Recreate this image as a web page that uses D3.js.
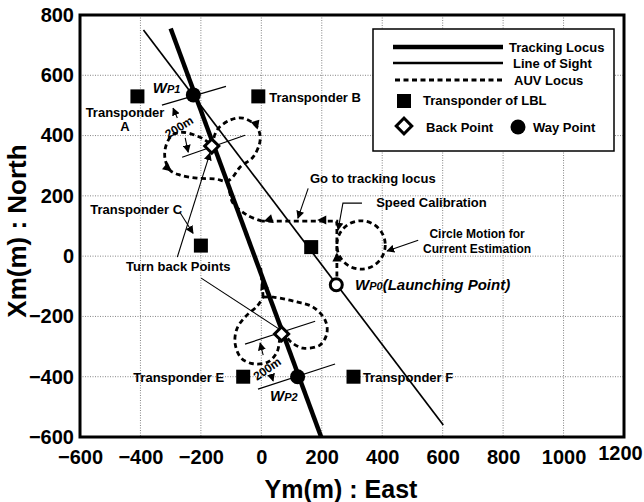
<!DOCTYPE html>
<html>
<head>
<meta charset="utf-8">
<script src="https://cdn.jsdelivr.net/npm/d3@7"></script>
<style>
  body { margin: 0; background: #fff; }
  svg { display: block; font-family: "Liberation Sans", Arial, sans-serif; }
  .tick text { font-size: 20px; font-weight: bold; fill: #000; }
  .lbl { font-size: 13px; font-weight: bold; fill: #000; }
  .lbl.small { font-size: 12px; }
</style>
</head>
<body>
<div id="chart"></div>
<script>
// all positions below are [east (m), north (m)]

const xTicks = [-600, -400, -200, 0, 200, 400, 600, 800, 1000, 1200];
const yTicks = [-600, -400, -200, 0, 200, 400, 600, 800];

const trackingLocus = [[-300, 755], [198, -600]];
const lineOfSight = [[-390, 750], [602, -560]];

const transponders = [
  { id: 'A', e: -410, n: 530 },
  { id: 'B', e: -10, n: 530 },
  { id: 'C', e: -200, n: 35 },
  { id: 'D', e: 165, n: 30 },
  { id: 'E', e: -60, n: -400 },
  { id: 'F', e: 305, n: -400 },
];
const wayPoints = [
  { id: 'WP1', e: -225, n: 535 },
  { id: 'WP2', e: 120, n: -400 },
];
const launchPoint = { id: 'WP0', e: 248, n: -95 };
const backPoints = [[-164, 365], [67, -258]];

// AUV locus pieces
const auvLaunchLeg = [[250, -96], [250, 116], [2, 116]];
const auvToLocus = [[2, 116], [-47, 136], [-94, 176], [-104, 209], [-113, 249]];
const calibCircle = { e: 330, n: 37, r: 80 };
const upperLoop = [
  [-163, 365], [-147, 418], [-104, 451], [-61, 458], [-14, 428], [-4, 385],
  [-27, 329], [-70, 296], [-94, 263], [-113, 249], [-153, 256], [-213, 259],
  [-269, 269], [-302, 285], [-319, 325], [-315, 368], [-295, 401], [-262, 411],
  [-219, 401], [-186, 385], [-163, 365],
];
const lowerLoop = [
  [6, -136], [39, -136], [118, -152], [171, -169], [211, -212], [217, -255],
  [194, -295], [138, -305], [102, -288], [68, -258], [52, -318], [22, -351],
  [-27, -357], [-67, -338], [-87, -288], [-80, -239], [-51, -199], [-14, -166],
  [6, -136],
];
const lowerClimb = [[6, -136], [-2, -40]];

// arrow heads on the AUV locus: tip + direction
const auvArrows = [
  { e: 250, n: 12, de: 0, dn: 1 },
  { e: 185, n: 120, de: -1, dn: 0 },
  { e: 8, n: 116, de: -1, dn: -0.3 },
  { e: -12, n: 420, de: 0.3, dn: -1 },
  { e: -296, n: 281, de: 1, dn: -0.8 },
  { e: 0, n: -82, de: -0.37, dn: 1 },
];

// thin reference lines across the tracking locus
const crossLines = [
  [[-329, 501], [-117, 563]],
  [[-262, 328], [-54, 401]],
  [[-54, -292], [178, -216]],
  [[-11, -441], [244, -358]],
];

// pointer lines from labels, arrow at the end when arrow = true
const pointers = [
  { pts: [[-268, 143], [-226, 76]], arrow: true },
  { pts: [[-278, -3], [-170, 342]], arrow: true },
  { pts: [[-199, -73], [59, -242]], arrow: false },
  { pts: [[155, 225], [121, 126]], arrow: true },
  { pts: [[333, 176], [270, 176], [254, 87]], arrow: true },
  { pts: [[519, 53], [416, 17]], arrow: true },
  { pts: [[-278, 458], [-292, 491]], arrow: true },
  { pts: [[-252, 392], [-242, 345]], arrow: true },
  { pts: [[6, -328], [-4, -288]], arrow: true },
  { pts: [[33, -394], [39, -414]], arrow: true },
];

const labels = [
  { t: 'Transponder', e: -451, n: 461, anchor: 'middle' },
  { t: 'A', e: -451, n: 415, anchor: 'middle' },
  { t: 'Transponder B', e: 26, n: 511, anchor: 'start' },
  { t: 'Transponder C', e: -414, n: 140, anchor: 'middle' },
  { t: 'Turn back Points', e: -275, n: -49, anchor: 'middle' },
  { t: 'Transponder E', e: -123, n: -418, anchor: 'end' },
  { t: 'Transponder F', e: 336, n: -418, anchor: 'start' },
  { t: 'Go to tracking locus', e: 161, n: 243, anchor: 'start' },
  { t: 'Speed Calibration', e: 380, n: 163, anchor: 'start' },
  { t: 'Circle Motion for', e: 714, n: 59, anchor: 'middle', small: true },
  { t: 'Current Estimation', e: 714, n: 12, anchor: 'middle', small: true },
];
const wpLabels = [
  { w: 'W', p: 'P1', rest: '', e: -359, n: 541 },
  { w: 'W', p: 'P2', rest: '', e: 29, n: -481 },
  { w: 'W', p: 'P0', rest: '(Launching Point)', e: 310, n: -112 },
];
const distLabels = [
  { t: '200m', e: -272, n: 428, rot: -32 },
  { t: '200m', e: 19, n: -374, rot: -35 },
];

const legendItems = ['Tracking Locus', 'Line of Sight', 'AUV Locus', 'Transponder of LBL', 'Back Point', 'Way Point'];

// dimensions
const WIDTH = 644;
const HEIGHT = 502;
const LEFT = 80;
const RIGHT = 624;
const TOP = 15;
const BOTTOM = 437;

const x = d3.scaleLinear().domain([-600, 1200]).range([LEFT, RIGHT]);
const y = d3.scaleLinear().domain([-600, 800]).range([BOTTOM, TOP]);

const $svg = d3.select('#chart').append('svg')
  .attr('width', WIDTH)
  .attr('height', HEIGHT);

$svg.append('defs').append('marker')
  .attr('id', 'tip')
  .attr('viewBox', '0 0 10 10')
  .attr('refX', 9)
  .attr('refY', 5)
  .attr('markerUnits', 'userSpaceOnUse')
  .attr('markerWidth', 8)
  .attr('markerHeight', 8)
  .attr('orient', 'auto')
  .append('path')
  .attr('d', 'M0,0L10,5L0,10Z');

// grid
const $grid = $svg.append('g').attr('class', 'grid')
  .attr('stroke', '#666').attr('stroke-width', 0.8).attr('stroke-dasharray', '1,1.5');
$grid.selectAll('.gx').data(xTicks.slice(1, -1)).join('line')
  .attr('x1', d => x(d)).attr('x2', d => x(d)).attr('y1', TOP).attr('y2', BOTTOM);
$grid.selectAll('.gy').data(yTicks.slice(1, -1)).join('line')
  .attr('y1', d => y(d)).attr('y2', d => y(d)).attr('x1', LEFT).attr('x2', RIGHT);

// axes (labels only)
const $xAxis = $svg.append('g')
  .attr('transform', `translate(0, ${BOTTOM})`)
  .call(d3.axisBottom(x).tickValues(xTicks).tickSize(0).tickPadding(13).tickFormat(d3.format('d')));
$xAxis.select('.domain').remove();
// the last label sits a little higher and further left in the original
$xAxis.selectAll('.tick text').filter(d => d === 1200).attr('dy', '0.5em').attr('dx', -4);

const $yAxis = $svg.append('g')
  .attr('transform', `translate(${LEFT}, 0)`)
  .call(d3.axisLeft(y).tickValues(yTicks).tickSize(0).tickPadding(6).tickFormat(d3.format('d')));
$yAxis.select('.domain').remove();

$svg.append('text')
  .attr('x', (LEFT + RIGHT) / 2 - 11).attr('y', 498)
  .attr('text-anchor', 'middle')
  .style('font-size', '25px').style('font-weight', 'bold')
  .text('Ym(m) : East');
$svg.append('text')
  .attr('transform', `translate(26, ${(TOP + BOTTOM) / 2 + 5}) rotate(-90)`)
  .attr('text-anchor', 'middle')
  .style('font-size', '26px').style('font-weight', 'bold')
  .text('Xm(m) : North');

// plot content
const $vis = $svg.append('g').attr('class', 'vis');
const line = d3.line().x(d => x(d[0])).y(d => y(d[1]));
const curve = d3.line().x(d => x(d[0])).y(d => y(d[1])).curve(d3.curveCatmullRom.alpha(0.5));

const DASH = '5,3.5';
const AUV_W = 2.8;

// AUV locus
const $auv = $vis.append('g').attr('fill', 'none').attr('stroke', '#000')
  .attr('stroke-width', AUV_W).attr('stroke-dasharray', DASH);
$auv.append('path').attr('d', line(auvLaunchLeg));
$auv.append('path').attr('d', curve(auvToLocus));
$auv.append('circle')
  .attr('cx', x(calibCircle.e)).attr('cy', y(calibCircle.n))
  .attr('r', x(calibCircle.r) - x(0));
$auv.append('path').attr('d', curve(upperLoop));
$auv.append('path').attr('d', curve(lowerLoop));
$auv.append('path').attr('d', line(lowerClimb));

// cross lines
$vis.selectAll('.cross').data(crossLines).join('path')
  .attr('class', 'cross')
  .attr('d', line)
  .attr('fill', 'none').attr('stroke', '#000').attr('stroke-width', 1.2);

// line of sight and tracking locus
$vis.append('path').attr('d', line(lineOfSight))
  .attr('fill', 'none').attr('stroke', '#000').attr('stroke-width', 1.7);
$vis.append('path').attr('d', line(trackingLocus))
  .attr('fill', 'none').attr('stroke', '#000').attr('stroke-width', 4.5);

// AUV arrow heads
$vis.selectAll('.auv-arrow').data(auvArrows).join('path')
  .attr('class', 'auv-arrow')
  .attr('d', 'M0,0L-9,-4.5L-9,4.5Z')
  .attr('transform', d => {
    const ang = Math.atan2(y(d.n + d.dn) - y(d.n), x(d.e + d.de) - x(d.e)) * 180 / Math.PI;
    return `translate(${x(d.e)}, ${y(d.n)}) rotate(${ang})`;
  });

// pointers
$vis.selectAll('.pointer').data(pointers).join('path')
  .attr('class', 'pointer')
  .attr('d', d => line(d.pts))
  .attr('fill', 'none').attr('stroke', '#000').attr('stroke-width', 1.1)
  .attr('marker-end', d => (d.arrow ? 'url(#tip)' : null));

// transponders
const SQ = 14;
$vis.selectAll('.transponder').data(transponders).join('rect')
  .attr('class', 'transponder')
  .attr('x', d => x(d.e) - SQ / 2).attr('y', d => y(d.n) - SQ / 2)
  .attr('width', SQ).attr('height', SQ);

// back points
$vis.selectAll('.back').data(backPoints).join('rect')
  .attr('class', 'back')
  .attr('width', 10).attr('height', 10)
  .attr('transform', d => `translate(${x(d[0])}, ${y(d[1])}) rotate(45) translate(-5, -5)`)
  .attr('fill', '#fff').attr('stroke', '#000').attr('stroke-width', 3);

// way points
$vis.selectAll('.wp').data(wayPoints).join('circle')
  .attr('class', 'wp')
  .attr('cx', d => x(d.e)).attr('cy', d => y(d.n)).attr('r', 7.5);
$vis.append('circle')
  .attr('cx', x(launchPoint.e)).attr('cy', y(launchPoint.n)).attr('r', 6)
  .attr('fill', '#fff').attr('stroke', '#000').attr('stroke-width', 3);

// labels
$vis.selectAll('.lbl').data(labels).join('text')
  .attr('class', d => (d.small ? 'lbl small' : 'lbl'))
  .attr('x', d => x(d.e)).attr('y', d => y(d.n))
  .attr('text-anchor', d => d.anchor)
  .text(d => d.t);

const $wp = $vis.selectAll('.wplbl').data(wpLabels).join('text')
  .attr('class', 'wplbl')
  .attr('x', d => x(d.e)).attr('y', d => y(d.n))
  .style('font-weight', 'bold').style('font-style', 'italic');
$wp.append('tspan').style('font-size', '15px').text(d => d.w);
$wp.append('tspan').style('font-size', '11px').text(d => d.p);
$wp.append('tspan').style('font-size', '15px').text(d => d.rest);

$vis.selectAll('.dist').data(distLabels).join('text')
  .attr('class', 'dist')
  .attr('transform', d => `translate(${x(d.e)}, ${y(d.n)}) rotate(${d.rot})`)
  .attr('text-anchor', 'middle').attr('dy', '0.35em')
  .style('font-size', '12px').style('font-weight', 'bold')
  .text(d => d.t);

// legend
const $legend = $svg.append('g').attr('class', 'legend');
$legend.append('rect')
  .attr('x', 373).attr('y', 29).attr('width', 241).attr('height', 122)
  .attr('fill', '#fff').attr('stroke', '#000').attr('stroke-width', 1.5);
const LX0 = 393;
const LX1 = 503;
$legend.append('line').attr('x1', LX0).attr('x2', LX1).attr('y1', 47).attr('y2', 47)
  .attr('stroke', '#000').attr('stroke-width', 4.5);
$legend.append('line').attr('x1', LX0).attr('x2', LX1).attr('y1', 63).attr('y2', 63)
  .attr('stroke', '#000').attr('stroke-width', 2.5);
$legend.append('line').attr('x1', LX0 + 2).attr('x2', LX1).attr('y1', 80).attr('y2', 80)
  .attr('stroke', '#000').attr('stroke-width', AUV_W).attr('stroke-dasharray', DASH);
$legend.append('rect').attr('x', 397).attr('y', 94).attr('width', SQ).attr('height', SQ);
$legend.append('rect').attr('width', 11).attr('height', 11)
  .attr('transform', 'translate(404, 126) rotate(45) translate(-5.5, -5.5)')
  .attr('fill', '#fff').attr('stroke', '#000').attr('stroke-width', 3);
$legend.append('circle').attr('cx', 518).attr('cy', 127).attr('r', 7.5);

const legendPos = [[509, 52], [513, 68], [514, 85], [423, 105], [426, 132], [533, 132]];
$legend.selectAll('.ltxt').data(legendItems).join('text')
  .attr('class', 'lbl ltxt')
  .attr('x', (d, i) => legendPos[i][0]).attr('y', (d, i) => legendPos[i][1])
  .text(d => d);

// frame
$svg.append('rect')
  .attr('x', LEFT).attr('y', TOP).attr('width', RIGHT - LEFT).attr('height', BOTTOM - TOP)
  .attr('fill', 'none').attr('stroke', '#000').attr('stroke-width', 3);
</script>
</body>
</html>
